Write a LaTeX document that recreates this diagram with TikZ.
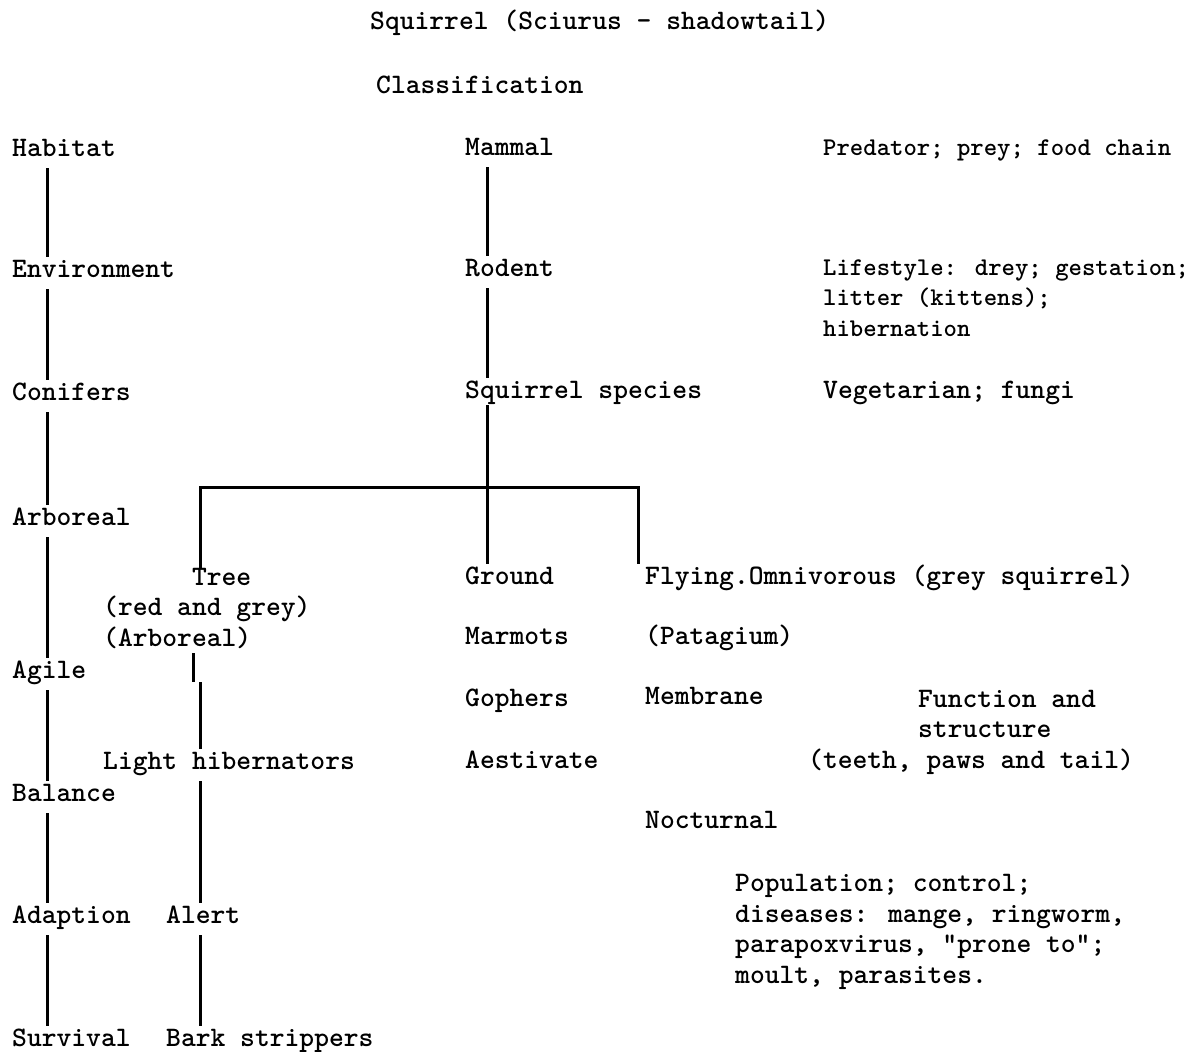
\documentclass[tikz,border=0pt]{standalone}
\usetikzlibrary{calc, positioning}

\begin{document}
\begin{tikzpicture}[x=1pt, y=-1pt, font=\ttfamily\fontseries{b}\fontsize{28.2}{30.5}\selectfont,
  word/.style={anchor=base west, inner sep=0pt, text height=20pt, text depth=7pt},
  block/.style={anchor=base west, inner sep=0pt, align=left},
  narrow/.style={font=\ttfamily\fontseries{b}\fontsize{25.5}{30.5}\selectfont},
  link/.style={line width=3pt, shorten <=5pt}]
\useasboundingbox (0,0) rectangle (1187,1052);
%heading
\node[word] (title) at (370,30) {Squirrel (Sciurus - shadowtail)};
\node[word] (class) at (376,93) {Classification};
%habitat chain
\node[word] (hab) at (12,156) {Habitat};
\node[word] (env) at (12,277) {Environment};
\node[word] (con) at (12,400) {Conifers};
\node[word] (arb) at (12,525) {Arboreal};
\node[word] (agl) at (12,678) {Agile};
\node[word] (bal) at (12,801) {Balance};
\node[word] (adp) at (12,923) {Adaption};
\node[word] (srv) at (12,1046) {Survival};
%classification chain
\node[word] (mam) at (465,155) {Mammal};
\node[word] (rod) at (465,276) {Rodent};
\node[word] (spc) at (465,398) {Squirrel species};
%tree squirrels (block nodes sit on their last line)
\node[block] (tree) at (103,646) {\hspace*{3.15em}Tree\\(red and grey)\\(Arboreal)};
\node[word] (lhib) at (103,769) {Light hibernators};
\node[word] (alrt) at (166,923) {Alert};
\node[word] (bark) at (166,1046) {Bark strippers};
%ground squirrels
\node[word] (grd) at (465,584) {Ground};
\node[word] (mrm) at (465,644) {Marmots};
\node[word] (gph) at (465,706) {Gophers};
\node[word] (aes) at (465,768) {Aestivate};
%flying squirrels
\node[word] (fly) at (645,584) {Flying.Omnivorous (grey squirrel)};
\node[word] (pat) at (645,644) {(Patagium)};
\node[word] (mem) at (645,704) {Membrane};
\node[word] (noc) at (645,828) {Nocturnal};
%notes on the right
\node[word, narrow] (pred) at (823,155) {Predator; prey; food chain};
\node[block, narrow] (life) at (823,336) {Lifestyle: drey; gestation;\\litter (kittens);\\hibernation};
\node[word] (veg) at (823,398) {Vegetarian; fungi};
\node[block] (func) at (808,768) {\hspace*{3.9em}Function and\\\hspace*{3.9em}structure\\(teeth, paws and tail)};
\node[block] (pop) at (735,983) {Population; control;\\diseases: mange, ringworm,\\parapoxvirus, "prone to";\\moult, parasites.};
%%
\draw[link] ([xshift=35pt]hab.south west) -- ([xshift=35pt]env.north west); \draw[link] ([xshift=35pt]env.south west) -- ([xshift=35pt]con.north west);
\draw[link] ([xshift=35pt]con.south west) -- ([xshift=35pt]arb.north west); \draw[link] ([xshift=35pt]arb.south west) -- ([xshift=35pt]agl.north west);
\draw[link] ([xshift=35pt]agl.south west) -- ([xshift=35pt]bal.north west); \draw[link] ([xshift=35pt]bal.south west) -- ([xshift=35pt]adp.north west);
\draw[link] ([xshift=35pt]adp.south west) -- ([xshift=35pt]srv.north west);
\draw[link] ([xshift=22pt]mam.south west) -- ([xshift=22pt]rod.north west); \draw[link] ([xshift=22pt]rod.south west) -- ([xshift=22pt]spc.north west);
\draw[link, shorten <=0pt] ([xshift=22pt]spc.south west) -- ([xshift=22pt]grd.north west);
\coordinate (fork) at (487,487);
\draw[line width=3pt] ([xshift=97pt]tree.north west) |- (fork) -| ([xshift=-7pt]fly.north west);
\draw[link] ([xshift=90pt]tree.south west) -- ++(0,34) coordinate (jog);
\draw[line width=3pt] ([xshift=7pt]jog) -- ([xshift=97pt]lhib.north west);
\draw[link] ([xshift=97pt]lhib.south west) -- ([xshift=34pt]alrt.north west); \draw[link] ([xshift=34pt]alrt.south west) -- ([xshift=34pt]bark.north west);
\end{tikzpicture}
\end{document}
